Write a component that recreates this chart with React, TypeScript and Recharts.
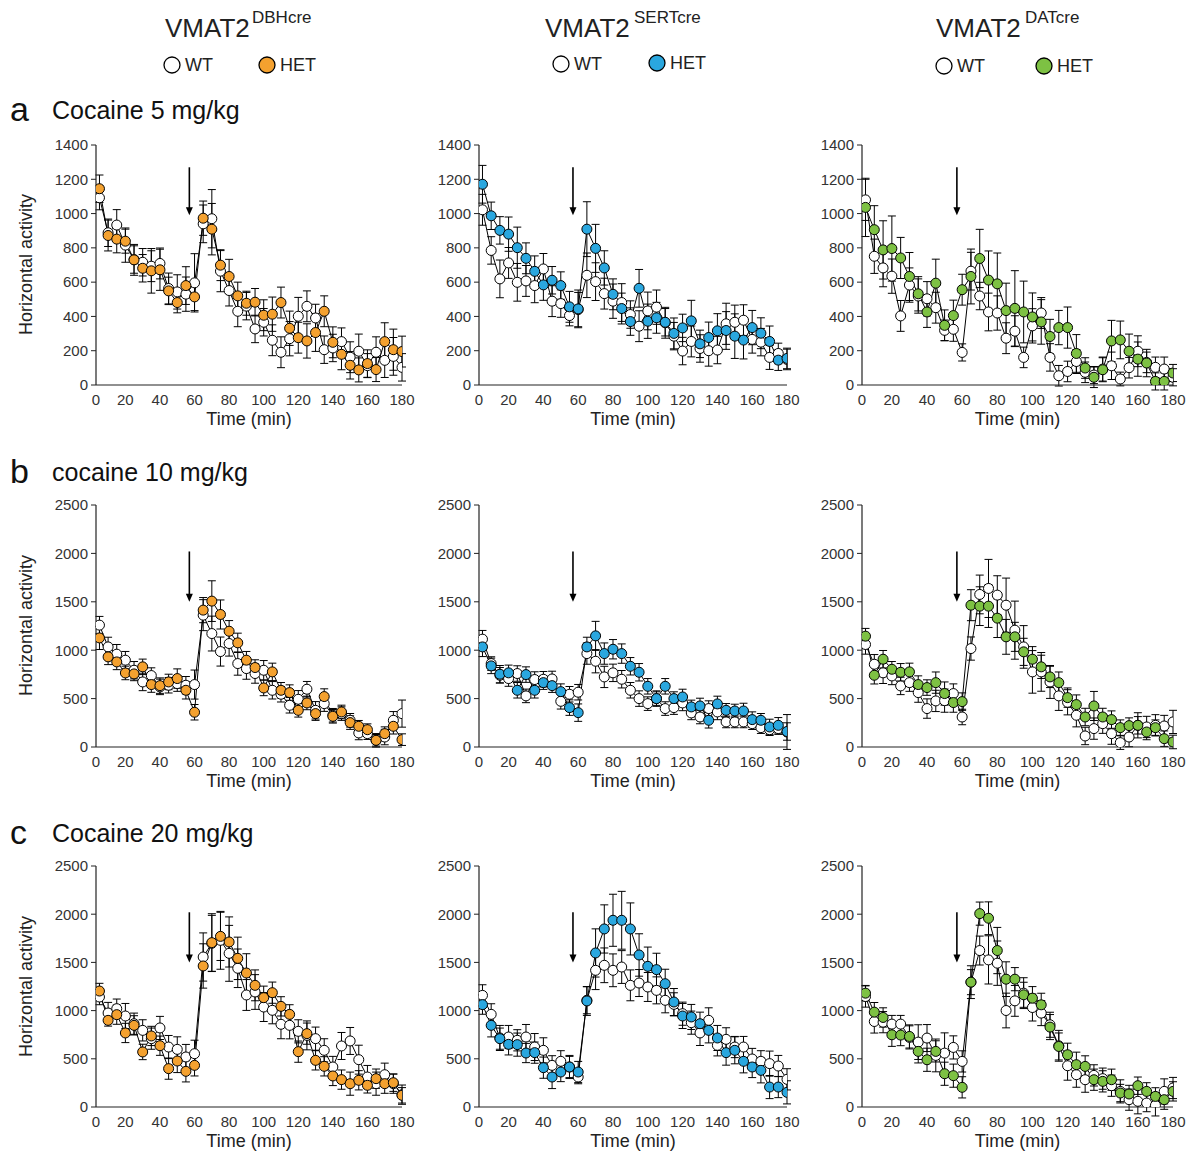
import React from "react";
import { LineChart, Line, XAxis, YAxis, ErrorBar, ReferenceLine } from "recharts";

// 5-min bins, 36 per session
const TIMES = [5, 10, 15, 20, 25, 30, 35, 40, 45, 50, 55, 60, 65, 70, 75, 80, 85, 90, 95, 100, 105, 110, 115, 120, 125, 130, 135, 140, 145, 150, 155, 160, 165, 170, 175, 180];
const X_TICKS = [0, 20, 40, 60, 80, 100, 120, 140, 160, 180];
const Y_TICKS_A = [0, 200, 400, 600, 800, 1000, 1200, 1400];
const Y_TICKS_BC = [0, 500, 1000, 1500, 2000, 2500];

const COLORS = { dbh: "#F4A12F", sert: "#2AA7DF", dat: "#7DC143" };

// ---- row a: cocaine 5 mg/kg ----
const A1_WT = [1092, 888, 933, 816, 732, 716, 693, 709, 563, 543, 530, 596, 940, 970, 664, 551, 430, 460, 327, 366, 261, 191, 270, 401, 459, 391, 206, 216, 253, 162, 197, 113, 191, 144, 167, 103];
const A1_HET = [1145, 872, 851, 839, 730, 681, 666, 672, 549, 481, 580, 514, 973, 909, 699, 633, 520, 477, 483, 407, 413, 481, 331, 276, 257, 306, 430, 249, 179, 115, 88, 125, 90, 253, 206, 195];
const A1_WT_ERR = [70, 80, 90, 100, 80, 80, 90, 90, 90, 100, 100, 170, 110, 170, 120, 90, 90, 80, 80, 80, 90, 90, 100, 110, 90, 80, 80, 80, 80, 90, 100, 70, 90, 100, 110, 80];
const A1_HET_ERR = [80, 90, 80, 70, 90, 80, 130, 120, 80, 60, 110, 80, 100, 150, 90, 100, 80, 70, 80, 90, 100, 90, 100, 90, 100, 110, 90, 90, 90, 80, 70, 80, 70, 110, 120, 90];

const A2_WT = [1022, 785, 619, 712, 599, 607, 580, 677, 489, 475, 405, 440, 640, 603, 533, 489, 481, 411, 343, 432, 454, 363, 285, 198, 254, 213, 200, 204, 357, 366, 378, 266, 250, 161, 184, 149];
const A2_HET = [1171, 987, 902, 880, 801, 739, 663, 584, 611, 580, 456, 444, 909, 797, 683, 529, 446, 370, 564, 372, 392, 366, 301, 333, 374, 240, 277, 316, 318, 285, 262, 335, 302, 254, 145, 155];
const A2_WT_ERR = [90, 80, 110, 90, 110, 90, 100, 90, 90, 80, 60, 100, 130, 110, 90, 100, 110, 80, 90, 110, 100, 90, 80, 80, 90, 80, 90, 80, 120, 100, 90, 80, 80, 70, 60, 60];
const A2_HET_ERR = [110, 80, 80, 100, 120, 90, 90, 90, 80, 80, 90, 110, 160, 140, 100, 90, 90, 80, 110, 100, 90, 80, 90, 80, 120, 80, 90, 100, 110, 130, 110, 100, 90, 90, 60, 60];

const A3_WT = [1080, 751, 683, 635, 403, 583, 519, 503, 451, 319, 325, 190, 664, 519, 426, 420, 273, 314, 161, 345, 420, 161, 54, 79, 137, 74, 58, 93, 112, 35, 101, 197, 132, 103, 93, 45];
const A3_HET = [1036, 906, 788, 796, 741, 633, 532, 426, 594, 348, 405, 556, 633, 738, 612, 590, 434, 447, 426, 397, 368, 283, 335, 335, 184, 99, 45, 89, 257, 263, 197, 151, 128, 21, 21, 70];
const A3_WT_ERR = [120, 100, 110, 100, 90, 100, 100, 100, 90, 60, 70, 50, 110, 80, 110, 100, 90, 90, 60, 100, 90, 80, 60, 60, 70, 60, 50, 70, 80, 40, 60, 90, 60, 60, 70, 50];
const A3_HET_ERR = [170, 140, 170, 190, 120, 140, 100, 90, 140, 90, 90, 90, 160, 170, 170, 180, 160, 220, 180, 140, 130, 100, 100, 120, 110, 60, 60, 70, 120, 110, 100, 100, 80, 50, 50, 50];

// ---- row b: cocaine 10 mg/kg ----
const B1_WT = [1259, 1034, 959, 897, 793, 672, 738, 621, 638, 655, 638, 645, 1362, 1172, 986, 1069, 862, 810, 759, 793, 586, 545, 431, 493, 597, 379, 448, 328, 345, 276, 145, 138, 69, 103, 276, 345];
const B1_HET = [1127, 931, 879, 765, 755, 828, 645, 634, 672, 707, 586, 359, 1414, 1507, 1369, 1196, 1076, 897, 821, 610, 776, 586, 562, 379, 455, 345, 521, 317, 362, 252, 214, 179, 69, 138, 214, 76];
const B1_WT_ERR = [90, 100, 100, 90, 90, 90, 80, 80, 80, 80, 90, 150, 160, 180, 150, 130, 120, 110, 100, 100, 90, 80, 80, 90, 80, 90, 80, 70, 70, 70, 70, 60, 70, 80, 90, 140];
const B1_HET_ERR = [120, 80, 80, 70, 70, 80, 80, 80, 80, 100, 90, 80, 130, 210, 150, 110, 100, 90, 80, 80, 90, 80, 80, 70, 70, 70, 80, 70, 70, 70, 60, 60, 60, 70, 80, 60];

const B2_WT = [1114, 862, 741, 707, 759, 528, 697, 700, 703, 472, 545, 566, 965, 886, 724, 766, 700, 586, 500, 448, 500, 397, 407, 455, 352, 310, 397, 362, 259, 259, 259, 241, 200, 179, 190, 155];
const B2_HET = [1034, 838, 752, 766, 586, 748, 586, 665, 634, 572, 407, 355, 1034, 1148, 965, 1010, 965, 834, 772, 627, 500, 627, 500, 517, 414, 424, 276, 445, 379, 372, 372, 283, 276, 207, 224, 160];
const B2_WT_ERR = [90, 70, 80, 80, 80, 70, 80, 80, 80, 80, 80, 80, 110, 120, 110, 90, 90, 80, 80, 70, 70, 70, 70, 80, 70, 70, 80, 80, 60, 60, 60, 60, 60, 60, 60, 180];
const B2_HET_ERR = [100, 80, 90, 80, 80, 80, 80, 70, 70, 80, 80, 90, 100, 150, 110, 100, 100, 90, 90, 80, 80, 80, 70, 80, 70, 80, 80, 80, 70, 70, 80, 80, 70, 80, 80, 90];

const B3_WT = [1059, 855, 766, 734, 631, 665, 562, 397, 476, 479, 552, 310, 1017, 1576, 1638, 1569, 1465, 1207, 1034, 776, 776, 672, 528, 462, 328, 114, 190, 241, 138, 45, 103, 224, 207, 224, 217, 259];
const B3_HET = [1145, 741, 907, 803, 772, 776, 645, 614, 665, 552, 459, 469, 1465, 1455, 1455, 1331, 1138, 1138, 983, 907, 828, 724, 665, 510, 438, 310, 424, 310, 283, 200, 221, 224, 155, 200, 86, 52];
const B3_WT_ERR = [100, 100, 110, 90, 90, 90, 100, 100, 110, 120, 100, 80, 120, 200, 300, 200, 280, 300, 220, 220, 200, 170, 150, 130, 120, 90, 110, 100, 110, 70, 100, 130, 110, 110, 110, 120];
const B3_HET_ERR = [80, 90, 90, 80, 90, 90, 90, 80, 110, 120, 100, 90, 160, 200, 220, 200, 180, 150, 140, 130, 120, 110, 110, 100, 100, 90, 150, 90, 90, 80, 80, 90, 80, 80, 80, 70];

// ---- row c: cocaine 20 mg/kg ----
const C1_WT = [1141, 975, 1020, 944, 864, 795, 709, 820, 622, 598, 519, 553, 1556, 1698, 1729, 1594, 1439, 1162, 1193, 1037, 1003, 858, 847, 785, 743, 709, 588, 415, 633, 685, 491, 311, 242, 335, 242, 128];
const C1_HET = [1203, 899, 958, 768, 847, 571, 737, 636, 398, 477, 370, 432, 1463, 1705, 1770, 1712, 1542, 1390, 1262, 1134, 1186, 1044, 961, 574, 761, 484, 422, 322, 284, 242, 277, 225, 294, 242, 252, 121];
const C1_WT_ERR = [80, 110, 100, 130, 110, 110, 110, 120, 120, 130, 130, 140, 250, 290, 300, 290, 200, 160, 180, 150, 140, 150, 140, 120, 150, 120, 120, 110, 140, 140, 150, 120, 120, 120, 100, 100];
const C1_HET_ERR = [80, 60, 100, 100, 100, 80, 100, 100, 110, 120, 110, 110, 230, 300, 250, 260, 220, 200, 160, 120, 110, 100, 100, 110, 110, 100, 100, 100, 100, 120, 100, 80, 100, 100, 90, 80];

const C2_WT = [1158, 961, 716, 726, 692, 726, 622, 588, 432, 474, 415, 311, 1107, 1418, 1470, 1418, 1452, 1262, 1286, 1245, 1210, 1107, 1065, 968, 875, 768, 899, 640, 702, 622, 622, 498, 474, 450, 425, 287];
const C2_HET = [1062, 847, 709, 650, 647, 560, 564, 408, 311, 363, 415, 363, 1100, 1598, 1847, 1937, 1937, 1847, 1577, 1459, 1425, 1279, 1089, 944, 934, 864, 795, 716, 564, 588, 474, 415, 380, 207, 207, 152];
const C2_WT_ERR = [110, 110, 130, 120, 110, 130, 140, 130, 100, 110, 110, 70, 140, 200, 180, 170, 170, 160, 140, 150, 140, 130, 120, 120, 120, 130, 130, 110, 120, 110, 110, 110, 110, 130, 110, 110];
const C2_HET_ERR = [100, 120, 110, 110, 120, 100, 110, 110, 120, 100, 120, 110, 150, 250, 250, 270, 300, 270, 220, 200, 170, 150, 140, 130, 130, 120, 130, 130, 130, 140, 120, 110, 130, 120, 110, 120];

const C3_WT = [1146, 887, 880, 860, 860, 722, 673, 715, 535, 559, 618, 473, 1295, 1623, 1526, 1492, 1001, 1101, 1181, 1032, 974, 853, 635, 428, 335, 283, 328, 294, 221, 162, 76, 59, 41, 17, 162, 197];
const C3_HET = [1181, 984, 929, 749, 746, 732, 577, 490, 577, 345, 325, 204, 1295, 2006, 1958, 1623, 1326, 1326, 1164, 1129, 1060, 829, 628, 542, 439, 421, 283, 266, 283, 145, 135, 221, 162, 110, 76, 162];
const C3_WT_ERR = [110, 120, 110, 90, 90, 120, 180, 140, 170, 210, 120, 110, 170, 150, 250, 230, 180, 160, 160, 140, 130, 130, 160, 150, 130, 130, 110, 110, 110, 120, 110, 130, 90, 110, 130, 110];
const C3_HET_ERR = [80, 100, 100, 120, 110, 120, 120, 120, 110, 120, 120, 110, 130, 120, 170, 240, 180, 120, 130, 120, 120, 130, 140, 120, 130, 110, 110, 110, 110, 90, 90, 90, 90, 90, 100, 100];

// injection arrow (time, top value, bottom value)
const ARROW_X = 57;
const ARROW_A = [1270, 990];
const ARROW_BC = [2020, 1500];

// the x axis line starts a little after t = 0 in the original figure
const X_START = 3;

const FONT = "'Liberation Sans', Arial, Helvetica, sans-serif";
const TXT = "#333";

type PanelProps = {
  left: number;
  top: number;
  plotW: number;
  plotH: number;
  wt: number[];
  het: number[];
  wtErr: number[];
  hetErr: number[];
  color: string;
  yTicks: number[];
  arrow: number[];
  yLabel?: boolean;
};

const ML = 50;
const MT = 10;
const MR = 14;
const XH = 50;

function Arrow(props: any) {
  const { x1, y1, y2 } = props;
  const yTop = Math.min(y1, y2);
  const yBot = Math.max(y1, y2);
  return (
    <g>
      <line x1={x1} y1={yTop} x2={x1} y2={yBot - 4} stroke="#000" strokeWidth={1.6} />
      <polygon points={`${x1 - 3.5},${yBot - 8} ${x1 + 3.5},${yBot - 8} ${x1},${yBot}`} fill="#000" />
    </g>
  );
}

function Panel(p: PanelProps) {
  const data = TIMES.map((t, i) => ({
    t,
    wt: p.wt[i],
    het: p.het[i],
    wtErr: p.wtErr[i],
    hetErr: p.hetErr[i],
  }));
  const yMax = p.yTicks[p.yTicks.length - 1];
  const xTicks = X_TICKS.map((v) => Math.max(v, X_START));
  return (
    <div style={{ position: "absolute", left: p.left - ML, top: p.top - MT }}>
      <LineChart
        width={p.plotW + ML + MR}
        height={p.plotH + MT + XH}
        data={data}
        margin={{ top: MT, right: MR, bottom: 0, left: 0 }}
        style={{ fontFamily: FONT }}
      >
        <XAxis
          dataKey="t"
          type="number"
          domain={[X_START, 180]}
          allowDataOverflow
          ticks={xTicks}
          interval={0}
          tickFormatter={(v: number) => (v <= X_START ? "0" : String(v))}
          height={XH}
          axisLine={{ stroke: "#222", strokeWidth: 1.2 }}
          tickLine={false}
          tickMargin={3}
          tick={{ fill: TXT, fontSize: 15 }}
          label={{ value: "Time (min)", position: "insideBottom", offset: 10, fill: "#222", fontSize: 18 }}
        />
        <YAxis
          type="number"
          domain={[0, yMax]}
          allowDataOverflow
          ticks={p.yTicks}
          interval={0}
          width={ML}
          axisLine={{ stroke: "#222", strokeWidth: 1.2 }}
          tickLine={{ stroke: "#222" }}
          tickSize={5}
          tickMargin={3}
          tick={{ fill: TXT, fontSize: 15 }}
        />
        <ReferenceLine
          segment={[
            { x: ARROW_X, y: p.arrow[0] },
            { x: ARROW_X, y: p.arrow[1] },
          ]}
          shape={Arrow}
        />
        <Line
          dataKey="wt"
          stroke="#000"
          strokeWidth={1}
          isAnimationActive={false}
          dot={{ r: 5, fill: "#fff", stroke: "#000", strokeWidth: 1 }}
          activeDot={false}
        >
          <ErrorBar dataKey="wtErr" width={4} stroke="#000" strokeWidth={1} direction="y" />
        </Line>
        <Line
          dataKey="het"
          stroke="#000"
          strokeWidth={1}
          isAnimationActive={false}
          dot={{ r: 5, fill: p.color, stroke: "#000", strokeWidth: 1 }}
          activeDot={false}
        >
          <ErrorBar dataKey="hetErr" width={4} stroke="#000" strokeWidth={1} direction="y" />
        </Line>
      </LineChart>
      {p.yLabel && (
        <div
          style={{
            position: "absolute",
            left: -20 - 70,
            top: MT + p.plotH / 2 - 11,
            width: 140,
            textAlign: "center",
            transform: "rotate(-90deg)",
            fontSize: 18,
            lineHeight: "22px",
            color: "#222",
            whiteSpace: "nowrap",
          }}
        >
          Horizontal activity
        </div>
      )}
    </div>
  );
}

function Title(props: { left: number; name: string; supLeft: number }) {
  return (
    <>
      <div style={{ position: "absolute", left: props.left, top: 15, fontSize: 26, lineHeight: 1, color: "#222" }}>VMAT2</div>
      <div style={{ position: "absolute", left: props.supLeft, top: 9, fontSize: 17, lineHeight: 1, color: "#222" }}>{props.name}</div>
    </>
  );
}

function LegendItem(props: { cx: number; cy: number; fill: string; label: string }) {
  return (
    <>
      <svg style={{ position: "absolute", left: props.cx - 10, top: props.cy - 10 }} width={20} height={20}>
        <circle cx={10} cy={10} r={8} fill={props.fill} stroke="#000" strokeWidth={1.3} />
      </svg>
      <div style={{ position: "absolute", left: props.cx + 13, top: props.cy - 9, fontSize: 18, lineHeight: 1, color: "#222" }}>
        {props.label}
      </div>
    </>
  );
}

function RowLabel(props: { top: number; letter: string; text: string }) {
  return (
    <>
      <div style={{ position: "absolute", left: 10, top: props.top - 6, fontSize: 34, lineHeight: 1, color: "#111" }}>{props.letter}</div>
      <div style={{ position: "absolute", left: 52, top: props.top, fontSize: 25, lineHeight: 1, color: "#111" }}>{props.text}</div>
    </>
  );
}

const COL_LEFT = [96, 479, 862];
const COL_W = [306, 308, 311];
const ROW_TOP = [145, 505, 866];
const ROW_H = [240, 242, 241];

export default function App() {
  const rows = [
    { ticks: Y_TICKS_A, arrow: ARROW_A, sets: [[A1_WT, A1_HET, A1_WT_ERR, A1_HET_ERR], [A2_WT, A2_HET, A2_WT_ERR, A2_HET_ERR], [A3_WT, A3_HET, A3_WT_ERR, A3_HET_ERR]] },
    { ticks: Y_TICKS_BC, arrow: ARROW_BC, sets: [[B1_WT, B1_HET, B1_WT_ERR, B1_HET_ERR], [B2_WT, B2_HET, B2_WT_ERR, B2_HET_ERR], [B3_WT, B3_HET, B3_WT_ERR, B3_HET_ERR]] },
    { ticks: Y_TICKS_BC, arrow: ARROW_BC, sets: [[C1_WT, C1_HET, C1_WT_ERR, C1_HET_ERR], [C2_WT, C2_HET, C2_WT_ERR, C2_HET_ERR], [C3_WT, C3_HET, C3_WT_ERR, C3_HET_ERR]] },
  ];
  const colColors = [COLORS.dbh, COLORS.sert, COLORS.dat];
  return (
    <div style={{ position: "absolute", left: 0, top: 0, width: 1189, height: 1151, background: "#fff", fontFamily: FONT, overflow: "hidden" }}>
      <Title left={165} supLeft={252} name="DBHcre" />
      <Title left={545} supLeft={634} name="SERTcre" />
      <Title left={936} supLeft={1025} name="DATcre" />

      <LegendItem cx={172} cy={65} fill="#fff" label="WT" />
      <LegendItem cx={267} cy={65} fill={COLORS.dbh} label="HET" />
      <LegendItem cx={561} cy={64} fill="#fff" label="WT" />
      <LegendItem cx={657} cy={63} fill={COLORS.sert} label="HET" />
      <LegendItem cx={944} cy={66} fill="#fff" label="WT" />
      <LegendItem cx={1044} cy={66} fill={COLORS.dat} label="HET" />

      <RowLabel top={98} letter="a" text="Cocaine 5 mg/kg" />
      <RowLabel top={460} letter="b" text="cocaine 10 mg/kg" />
      <RowLabel top={821} letter="c" text="Cocaine 20 mg/kg" />

      {rows.map((row, r) =>
        row.sets.map((s, c) => (
          <Panel
            key={`${r}-${c}`}
            left={COL_LEFT[c]}
            top={ROW_TOP[r]}
            plotW={COL_W[c]}
            plotH={ROW_H[r]}
            wt={s[0]}
            het={s[1]}
            wtErr={s[2]}
            hetErr={s[3]}
            color={colColors[c]}
            yTicks={row.ticks}
            arrow={row.arrow}
            yLabel={c === 0}
          />
        ))
      )}
    </div>
  );
}
